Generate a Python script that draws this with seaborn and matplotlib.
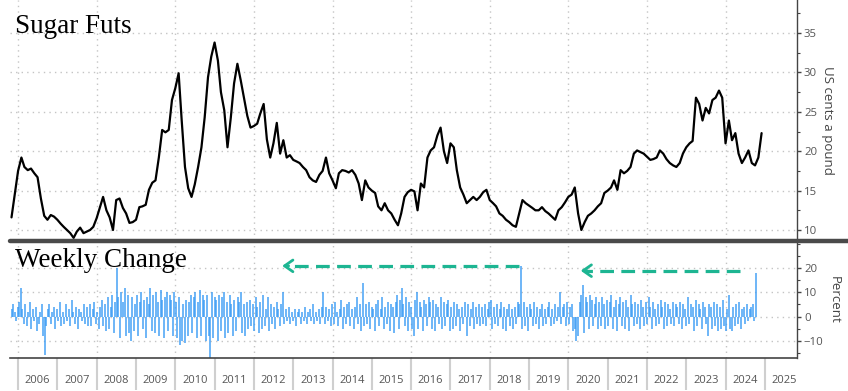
import numpy as np
import pandas as pd
import matplotlib.pyplot as plt
import matplotlib.dates as mdates
from matplotlib.lines import Line2D
from matplotlib.ticker import MultipleLocator
import seaborn as sns

# Sugar futures, monthly, US cents a pound (Nov 2005 .. Dec 2024)
price_start = "2005-11-01"
price = [
    11.6, 14.5,
    17.5, 19.2, 18.0, 17.6, 17.8, 17.2, 16.7, 14.0, 11.8, 11.3, 11.9, 11.7,
    11.3, 10.8, 10.4, 10.0, 9.6, 9.0, 9.8, 10.3, 9.6, 9.8, 10.0, 10.4,
    11.5, 12.9, 14.2, 12.5, 11.6, 10.0, 13.8, 14.0, 12.8, 12.1, 10.9, 11.0,
    11.3, 12.9, 13.0, 13.2, 15.1, 16.0, 16.3, 19.2, 22.7, 22.4, 22.7, 26.5,
    28.0, 29.9, 24.0, 18.0, 15.3, 14.2, 15.8, 18.0, 20.5, 24.3, 29.4, 32.0,
    33.8, 31.5, 27.5, 25.2, 20.5, 24.3, 28.6, 31.1, 29.0, 26.8, 24.5, 23.0,
    23.2, 23.5, 24.8, 26.0, 21.5, 19.2, 21.0, 23.6, 19.7, 21.4, 19.2, 19.5,
    18.9, 18.7, 18.5, 18.0, 17.6, 16.7, 16.3, 16.1, 17.0, 17.5, 19.2, 17.2,
    16.3, 15.3, 17.2, 17.6, 17.5, 17.3, 17.6, 17.0, 15.9, 13.8, 16.3, 15.4,
    15.0, 14.7, 13.0, 12.5, 13.4, 12.5, 12.1, 11.3, 10.6, 12.1, 14.2, 14.8,
    15.1, 14.9, 12.5, 15.9, 15.4, 19.2, 20.1, 20.5, 22.0, 23.0, 20.0, 18.5,
    21.0, 20.5, 17.6, 15.4, 14.5, 13.4, 13.8, 14.2, 13.8, 14.2, 14.8, 15.1,
    13.8, 13.4, 13.0, 12.1, 11.8, 11.3, 11.0, 10.6, 10.4, 12.1, 13.8, 13.4,
    13.1, 12.8, 12.5, 12.5, 12.9, 12.4, 12.1, 11.7, 11.3, 12.5, 12.9, 13.5,
    14.2, 14.5, 15.4, 12.1, 10.0, 11.0, 11.8, 12.1, 12.5, 13.0, 13.4, 14.7,
    15.0, 15.4, 16.3, 15.1, 17.6, 17.2, 17.5, 18.0, 19.7, 20.1, 19.9, 19.7,
    19.3, 18.9, 19.0, 19.2, 20.1, 19.7, 19.0, 18.5, 18.2, 18.0, 18.5, 19.7,
    20.5, 21.0, 21.3, 26.8, 26.0, 23.9, 25.5, 24.8, 26.5, 26.8, 27.7, 26.8,
    21.0, 23.9, 21.4, 22.3, 19.7, 18.5, 19.2, 20.1, 18.5, 18.2, 19.2, 22.3,
]

# Weekly change, percent (sampled every two weeks, Nov 2005 .. Sep 2024)
chg_start = "2005-11-01"
weekly_chg = [
    3, 5, 2, -2, 4, 6, 12, 3, -3, 5, -4, 2, 6, -5, 3, -2, 4, -6, -3, 2, 5, -8, -16, -4, 3, 5,
    -3, 2, 4, -5, 3, -2, 6, -4, 2, -3, 5, -2, 3, -4, 7, 2, -3, 4, -5, 3, 2, -2, 5, -3, 4, -4,
    5, -4, 3, 6, -3, 2, -5, 4, 7, -4, 5, -6, 8, -5, 4, 9, -7, 6, 20, 8, -9, 10, 6, 12, -8, 9,
    -7, -10, 8, -6, 5, 9, -8, 6, 10, -5, 7, -9, 8, 5, 12, -6, 9, -7, 10, 6, -8, 11, 7, -9, 8, 10,
    -6, 9, 7, -8, 10, 6, -9, 8, -12, -10, 5, -11, 7, -8, 6, 9, -7, 8, 10, -9, 6, 11, -8, 9, 7, -10,
    9, -8, -17, 10, -9, 8, 7, -10, 9, -6, 8, 10, -9, 6, -7, 9, 5, -8, 7, -6, 8, 6, 10, -7, 5, -8,
    6, -5, 7, -4, 5, -6, 8, 4, -7, 6, -5, 9, -4, 3, 8, -6, 5, -3, 4, -5, 6, 3, -4, 5, 10, -3,
    3, -2, 4, -3, 2, -2, 3, -4, 2, 3, -3, 2, -2, 4, -3, 2, 3, -2, 5, -3, 2, -2, 3, -3, 4, 10,
    -3, 4, -2, 3, -4, 5, -3, 6, 2, -4, 3, 7, -5, 4, -3, 5, 6, -4, 3, -5, 4, 8, -3, 5, -6, 14,
    -4, 5, -3, 6, -5, 4, 3, -6, 5, 7, -4, 3, 8, -5, 4, -3, 6, -6, 5, 4, -7, 6, 9, -5, 7, 12,
    5, -4, 8, -6, 6, 4, -5, -8, 7, 10, -5, 6, 4, -6, 7, 5, -4, 8, 6, -5, 7, -6, 5, 4, -3, 8,
    -5, 6, -4, 5, 7, -6, 4, -5, 6, -4, 5, 3, -6, 4, -3, 6, -8, 5, -4, 3, 6, -5, 4, -3, 5, -4,
    4, -3, 5, -4, 3, 6, 7, -5, 4, -3, 5, -4, 3, 6, -5, 4, -6, 3, 5, -4, 3, -5, 4, -3, 6, 5,
    21, -5, 6, -4, 4, -6, 5, 3, -4, 6, -3, 4, -5, 3, 5, -4, 3, -3, 4, 6, -4, 3, -3, 5, -2, 4,
    10, -3, 4, 5, -4, 6, -3, 4, 5, -6, -5, -10, -8, 6, 9, 13, -7, 8, 6, -5, 9, 7, -4, 5, 8, -5,
    6, -4, 8, 5, -5, 7, -4, 6, 9, -5, 4, 7, -6, 5, 8, -4, 6, -5, 7, 4, -6, 9, 5, -4, 6, -3,
    5, -5, 7, 4, -4, 6, -3, 8, 4, -5, 6, 3, -4, 5, -3, 7, 4, -5, 6, -4, 5, 3, -3, 6, -4, 5,
    4, -3, 6, -5, 5, 3, -4, 8, -3, 5, 4, -6, 7, -4, 5, 3, -5, 6, 4, -3, -8, 5, 4, -5, 6, -4,
    5, -6, 4, -5, 7, -4, -6, 3, 9, -5, -6, 4, -4, 5, -3, 6, -5, 3, 4, -3, 5, -2, 3, 4, 5, -2, 18,
]

years = list(range(2006, 2026))
year_labels = [str(y) for y in years]
price_ticks = [10, 15, 20, 25, 30, 35]
chg_ticks = [-10, 0, 10, 20]

# green dashed arrows: (tail date, head date, level in percent)
arrows = [("2018-10-01", "2012-09-20", 21), ("2024-05-10", "2020-04-25", 19)]

df_p = pd.DataFrame({"date": pd.date_range(price_start, periods=len(price), freq="MS"),
                     "price": price})
df_c = pd.DataFrame({"date": pd.date_range(chg_start, periods=len(weekly_chg), freq="14D"),
                     "chg": weekly_chg})

sns.set_theme(style="white")
plt.rcParams["font.family"] = ["Open Sans", "DejaVu Sans"]

W, H = 848, 391
fig = plt.figure(figsize=(W / 100, H / 100), dpi=100)
ax1 = fig.add_axes([10 / W, 1 - 240 / H, 787 / W, 240 / H])
ax2 = fig.add_axes([10 / W, 1 - 358 / H, 787 / W, 116 / H])

sns.lineplot(data=df_p, x="date", y="price", ax=ax1, color="black", lw=1.6)
ax2.vlines(df_c["date"], 0, df_c["chg"], color="#3d9df5", lw=1.4, alpha=0.75)

grid_kw = dict(color="#c4c4c4", lw=1.0, ls=(0, (1, 3)))
xlim = (mdates.date2num(pd.Timestamp("2005-10-18")), mdates.date2num(pd.Timestamp("2025-10-26")))
for ax in (ax1, ax2):
    ax.set_xlim(*xlim)
    ax.set_xlabel("")
    ax.yaxis.tick_right()
    ax.yaxis.set_label_position("right")
    ax.spines["left"].set_visible(False)
    ax.spines["top"].set_visible(False)
    ax.spines["right"].set_color("#444444")
    ax.spines["right"].set_linewidth(1.0)
    ax.tick_params(axis="y", which="both", right=True, direction="out", colors="#444444",
                   labelcolor="#555555", labelsize=8.2, pad=2)
    ax.tick_params(axis="y", which="major", length=3, width=1)
    ax.tick_params(axis="y", which="minor", length=2, width=0.8)
    ax.yaxis.grid(True, **grid_kw)
    for y in years[::2]:
        ax.axvline(mdates.date2num(pd.Timestamp(f"{y}-01-01")), zorder=0, **grid_kw)

# top panel
ax1.set_ylim(8.73, 39.2)
ax1.set_yticks(price_ticks)
ax1.yaxis.set_minor_locator(MultipleLocator(2.5))
ax1.spines["bottom"].set_visible(False)
ax1.set_xticks([])
ax1.set_ylabel("US cents a pound", rotation=270, labelpad=12, fontsize=9.5, color="#444444")
ax1.text(0.0064, 1 - 33 / 240, "Sugar Futs", transform=ax1.transAxes, va="baseline",
         family=["Liberation Serif"], fontsize=19.5, color="black")

# bottom panel
ax2.set_ylim(-17.2, 30.9)
ax2.set_yticks(chg_ticks)
ax2.yaxis.set_minor_locator(MultipleLocator(5))
ax2.spines["bottom"].set_color("#444444")
ax2.spines["bottom"].set_linewidth(1.2)
ax2.set_ylabel("Percent", rotation=270, labelpad=12, fontsize=9.5, color="#444444")
ax2.text(0.0064, (358 - 267) / 116, "Weekly Change", transform=ax2.transAxes, va="baseline",
         family=["Liberation Serif"], fontsize=19.5, color="black")

ax2.set_xticks([mdates.date2num(pd.Timestamp(f"{y}-01-01")) for y in years], labels=[])
ax2.set_xticks([mdates.date2num(pd.Timestamp(f"{y}-07-01")) for y in years],
               labels=year_labels, minor=True)
ax2.tick_params(axis="x", which="major", bottom=True, length=23, width=1.5, color="#cfcfcf")
ax2.tick_params(axis="x", which="minor", bottom=True, length=0, pad=12, labelsize=8,
                labelcolor="#555555")

arrow_color = "#1db592"
for tail, head, lvl in arrows:
    t = mdates.date2num(pd.Timestamp(tail))
    h = mdates.date2num(pd.Timestamp(head))
    ax2.plot([t, h + 40], [lvl, lvl], color=arrow_color, lw=2.3, ls=(0, (4.3, 2.3)),
             solid_capstyle="butt")
    ax2.annotate("", xy=(h, lvl), xytext=(h + 60, lvl),
                 arrowprops=dict(arrowstyle="->,head_length=0.5,head_width=0.35",
                                 color=arrow_color, lw=2.0, shrinkA=0, shrinkB=0))

# dark separator between the panels
fig.add_artist(Line2D([10 / W, 1.0], [1 - 241 / H] * 2, transform=fig.transFigure,
                      color="#4a4a4a", lw=3.2))

fig.savefig("out.png", dpi=100)
